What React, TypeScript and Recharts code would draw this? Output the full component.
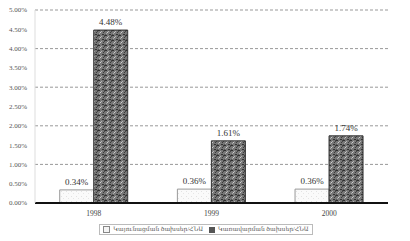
import { BarChart, Bar, XAxis, YAxis, CartesianGrid, Legend, LabelList } from "recharts";

const years = ["1998", "1999", "2000"];
const seriesA = [0.34, 0.36, 0.36];
const seriesB = [4.48, 1.61, 1.74];
const yTicks = [0, 0.5, 1, 1.5, 2, 2.5, 3, 3.5, 4, 4.5, 5];

const nameA = "Կայունացման ծախսեր/ՀՆԱ";
const nameB = "Կառավարման ծախսեր/ՀՆԱ";

const data = years.map((y, i) => ({ year: y, a: seriesA[i], b: seriesB[i] }));

const FONT = "'Liberation Serif', 'DejaVu Serif', serif";
const fmt = (v: number) => `${v.toFixed(2)}%`;

function BoxLegend() {
  return (
    <div style={{ textAlign: "center", marginLeft: 24 }}>
      <div
        style={{
          display: "inline-flex",
          alignItems: "center",
          gap: 3,
          border: "1px solid #bbb",
          padding: "0 3px",
          fontFamily: FONT,
          fontSize: 6,
          color: "#555",
          lineHeight: "9px",
        }}
      >
        <span style={{ width: 5, height: 5, border: "1px solid #888", background: "#f4f4f4", display: "inline-block" }} />
        <span>{nameA}</span>
        <span style={{ width: 6, height: 6, background: "#555", display: "inline-block", marginLeft: 3 }} />
        <span>{nameB}</span>
      </div>
    </div>
  );
}

export default function App() {
  return (
    <div style={{ position: "absolute", left: 0, top: 0, width: 410, height: 241, background: "#fff" }}>
      <BarChart
        width={410}
        height={241}
        data={data}
        margin={{ top: 10, right: 22, bottom: 0, left: 0 }}
        barCategoryGap="21%"
        barGap={0}
      >
        <defs>
          <pattern id="noise" width="7" height="5" patternUnits="userSpaceOnUse">
            <rect width="7" height="5" fill="#777" />
            <rect x="0" y="0" width="2" height="1" fill="#2f2f2f" />
            <rect x="3" y="1" width="1" height="1" fill="#b5b5b5" />
            <rect x="1" y="3" width="1" height="1" fill="#a8a8a8" />
            <rect x="4" y="4" width="2" height="1" fill="#333" />
            <rect x="6" y="0" width="1" height="2" fill="#444" />
            <rect x="2" y="2" width="1" height="1" fill="#cfcfcf" />
            <rect x="5" y="2" width="1" height="1" fill="#3a3a3a" />
            <rect x="0" y="4" width="1" height="1" fill="#555" />
          </pattern>
          <pattern id="light" width="5" height="5" patternUnits="userSpaceOnUse">
            <rect width="5" height="5" fill="#fafafa" />
            <rect x="1" y="1" width="1" height="1" fill="#e2e2e2" />
            <rect x="3" y="3" width="1" height="1" fill="#e6e6e6" />
          </pattern>
        </defs>
        <CartesianGrid vertical={false} stroke="#999" strokeDasharray="3 2" />
        <XAxis
          dataKey="year"
          height={16}
          tick={{ fontSize: 7.5, fill: "#444", fontFamily: FONT }}
          tickLine={false}
          axisLine={{ stroke: "#111", strokeWidth: 2 }}
          tickMargin={2}
        />
        <YAxis
          width={35}
          domain={[0, 5]}
          ticks={yTicks}
          tickFormatter={fmt}
          tick={{ fontSize: 7, fill: "#555", fontFamily: FONT }}
          tickLine={false}
          axisLine={{ stroke: "#ddd" }}
          tickMargin={2}
        />
        <Legend verticalAlign="bottom" height={22} content={<BoxLegend />} />
        <Bar dataKey="a" name={nameA} fill="url(#light)" stroke="#999" strokeWidth={1} isAnimationActive={false}>
          <LabelList dataKey="a" position="top" formatter={(v: any) => fmt(Number(v))} style={{ fontSize: 9, fill: "#333", fontFamily: FONT }} />
        </Bar>
        <Bar dataKey="b" name={nameB} fill="url(#noise)" stroke="#333" strokeWidth={1} isAnimationActive={false}>
          <LabelList dataKey="b" position="top" formatter={(v: any) => fmt(Number(v))} style={{ fontSize: 9, fill: "#333", fontFamily: FONT }} />
        </Bar>
      </BarChart>
    </div>
  );
}
